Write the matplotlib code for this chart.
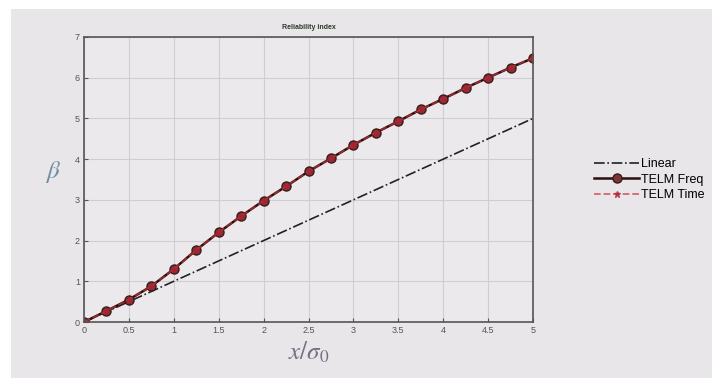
import matplotlib.pyplot as plt
import numpy as np
from matplotlib.patches import Rectangle

plt.rcParams['font.family'] = ['Liberation Sans', 'DejaVu Sans']
plt.rcParams['mathtext.fontset'] = 'stix'

# data
x_lin = [0, 5]
y_lin = [0, 5]
x_telm = np.arange(0, 5.01, 0.25)
y_freq = [0.0, 0.27, 0.55, 0.88, 1.30, 1.77, 2.20, 2.60, 2.98, 3.33, 3.70,
          4.02, 4.35, 4.65, 4.93, 5.22, 5.48, 5.75, 6.00, 6.25, 6.48]
y_time = y_freq
xticks = [0, 0.5, 1, 1.5, 2, 2.5, 3, 3.5, 4, 4.5, 5]
xticklabels = ['0', '0.5', '1', '1.5', '2', '2.5', '3', '3.5', '4', '4.5', '5']

W, H = 713, 378
fig = plt.figure(figsize=(W/100, H/100), dpi=100, facecolor='white')
# grey screen area with a thin white border top/left
fig.patches.append(Rectangle((11/W, 0), 1 - 12/W, 1 - 9/H, transform=fig.transFigure,
                             facecolor='#e8e6e8', edgecolor='none', zorder=-10))

ax = fig.add_axes([84/W, 1 - 322/H, (533-84)/W, (322-37)/H])
ax.set_facecolor('#ebe9eb')

ax.plot(x_lin, y_lin, color='#222222', ls='-.', lw=1.2, label='Linear')
ax.plot(x_telm, y_freq, color='#2a1010', lw=1.8, marker='o', ms=6.5,
        mfc='#7e3438', mec='#3a1a1a', mew=1.0, label='TELM Freq')
ax.plot(x_telm, y_time, color='#d0303a', ls='--', lw=1.3, marker='*', ms=4.5,
        mfc='#b02030', mec='#b02030', alpha=0.7, label='TELM Time')

ax.set_xlim(0, 5)
ax.set_ylim(0, 7)
ax.set_xticks(xticks)
ax.set_xticklabels(xticklabels)
ax.set_yticks(range(8))
ax.tick_params(labelsize=6.5, colors='#555555', direction='in', length=3, pad=3)
ax.grid(True, color='#cfcdcf', lw=0.8)
for s in ax.spines.values():
    s.set_color('#555555')
    s.set_linewidth(1.2)

ax.set_title('Reliability index', fontsize=5, fontweight='bold', color='#2a3a2a', pad=6)
ax.set_ylabel(r'$\beta$', fontsize=18, color='#6f8fa0', rotation=0)
ax.yaxis.set_label_coords(-0.07, 0.48)
ax.set_xlabel(r'$x/\sigma_0$', fontsize=18, color='#707080', labelpad=3)

leg = ax.legend(loc='upper left', bbox_to_anchor=(589/W, 1 - 153/H), bbox_transform=fig.transFigure,
                frameon=False, handlelength=3.6, handletextpad=0.15,
                labelspacing=0.3, borderaxespad=0, prop={'size': 9})

fig.savefig('out.png', dpi=100, facecolor=fig.get_facecolor())
